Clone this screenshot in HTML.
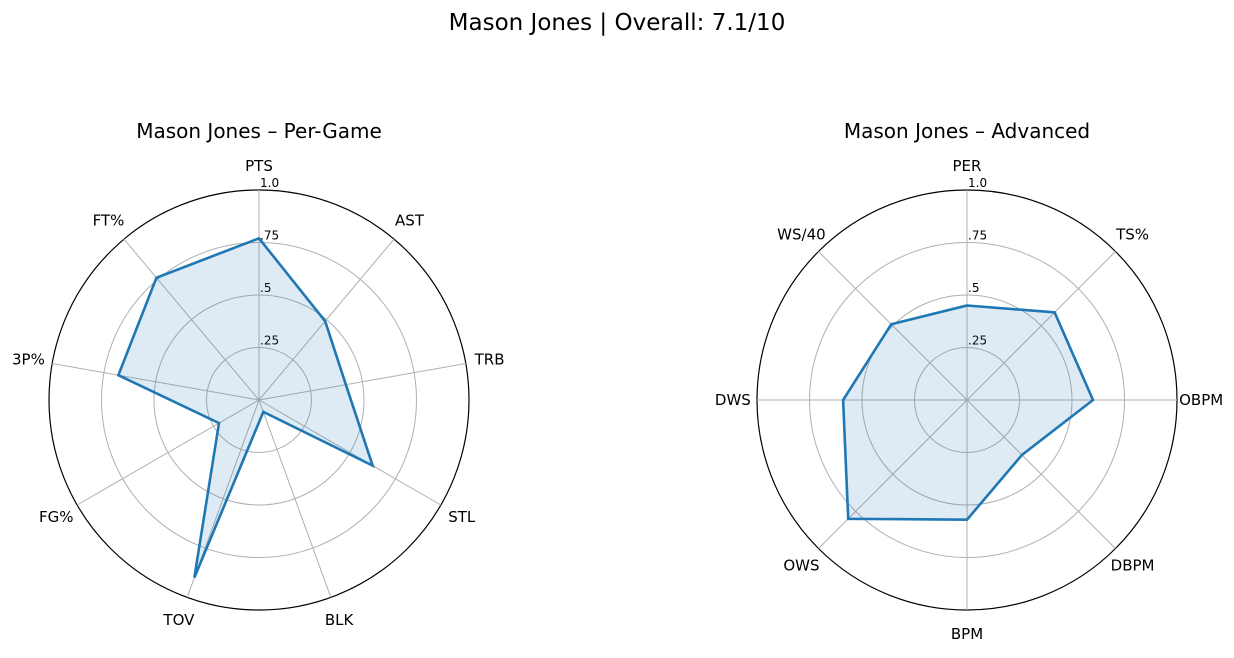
<!DOCTYPE html>
<html><head><meta charset="utf-8"><style>
body{margin:0;background:#fff;width:1234px;height:653px;overflow:hidden;font-family:"Liberation Sans","DejaVu Sans",sans-serif}
</style></head><body>
<svg width="1234" height="653" xmlns="http://www.w3.org/2000/svg" font-family="'DejaVu Sans','Liberation Sans',sans-serif">
<text x="617" y="30" text-anchor="middle" font-size="23">Mason Jones | Overall: 7.1/10</text>
<g id="left"></g>
<g id="right"></g>
</svg>
<script>
const pgCategories=["PTS","AST","TRB","STL","BLK","TOV","FG%","3P%","FT%"];
const pgValues=[0.77,0.49,0.42,0.625,0.06,0.90,0.22,0.68,0.76];
const advCategories=["PER","TS%","OBPM","DBPM","BPM","OWS","DWS","WS/40"];
const advValues=[0.45,0.59,0.60,0.37,0.57,0.80,0.59,0.51];
const tickValues=[0.25,0.5,0.75,1.0];
const tickLabels=[".25",".5",".75","1.0"];
const NS="http://www.w3.org/2000/svg";
function mk(t,a,p){const e=document.createElementNS(NS,t);for(const k in a)e.setAttribute(k,a[k]);p.appendChild(e);return e;}
function radar(g,cx,cy,R,cats,vals,title,key){
  const n=cats.length;
  const pt=(i,v)=>{const a=2*Math.PI*i/n;return [cx+R*v*Math.sin(a),cy-R*v*Math.cos(a)];};
  let t=mk('text',{x:cx,y:cy-262,'text-anchor':'middle','font-size':20},g);t.textContent=title;
  
  
  tickValues.forEach((v,j)=>{
    const c=mk('circle',{cx:cx,cy:cy,r:R*v,fill:'none',stroke:j==3?'#000':'#b0b0b0','stroke-width':j==3?1.2:1},g);
    
    
  });
  cats.forEach((c,i)=>{
    const [x,y]=pt(i,1);
    const l=mk('line',{x1:cx,y1:cy,x2:x,y2:y,stroke:'#b0b0b0','stroke-width':1},g);
    
    
    const [lx,ly]=pt(i,1.115);
    const tx=mk('text',{x:lx,y:ly+5,'text-anchor':'middle','font-size':15},g);tx.textContent=c;
    
    
  });
  tickValues.forEach((v,j)=>{
    const tx=mk('text',{x:cx+1,y:cy-R*v-3,'font-size':12},g);tx.textContent=tickLabels[j];
    
    
  });
  const pts=vals.map((v,i)=>pt(i,v).join(',')).join(' ');
  const p=mk('polygon',{points:pts,fill:'#1f77b4','fill-opacity':0.15,stroke:'#1f77b4','stroke-width':2.6,'stroke-linejoin':'miter'},g);
  
  
}
radar(document.getElementById('left'),259,400,210,pgCategories,pgValues,'Mason Jones – Per-Game','per-game');
radar(document.getElementById('right'),967,400,210,advCategories,advValues,'Mason Jones – Advanced','advanced');
</script>
</body></html>
